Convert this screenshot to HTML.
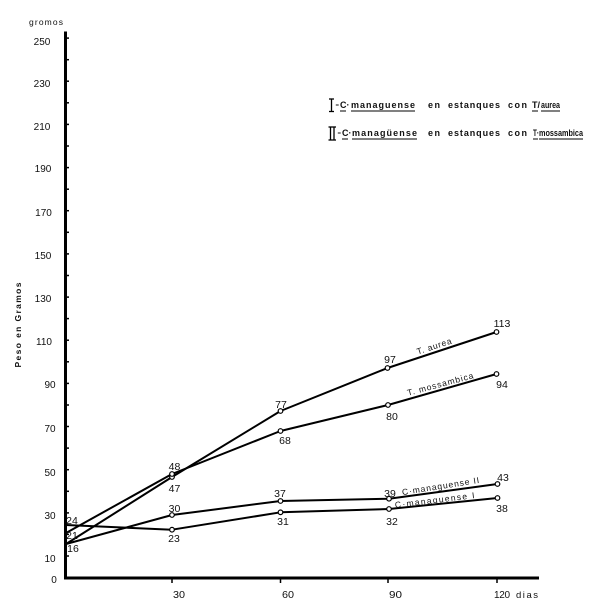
<!DOCTYPE html>
<html>
<head>
<meta charset="utf-8">
<style>
html,body{margin:0;padding:0;background:#fff;}
svg{display:block;}
text{font-family:"Liberation Sans",sans-serif;fill:#111;}
.t{font-size:10px;}
.v{font-size:10.5px;}
.lg{font-size:9px;font-weight:bold;}
.sm{font-size:8.5px;}
</style>
</head>
<body>
<svg width="600" height="614" viewBox="0 0 600 614" xmlns="http://www.w3.org/2000/svg">
<rect width="600" height="614" fill="#fff"/>

<!-- axes -->
<line x1="65.5" y1="31.5" x2="65.5" y2="579.5" stroke="#000" stroke-width="3"/>
<line x1="64" y1="578" x2="539" y2="578" stroke="#000" stroke-width="3"/>

<!-- y ticks -->
<g stroke="#000" stroke-width="1.5">
<line x1="66" y1="38.1" x2="69" y2="38.1"/>
<line x1="66" y1="59.7" x2="69" y2="59.7"/>
<line x1="66" y1="81.2" x2="69" y2="81.2"/>
<line x1="66" y1="102.8" x2="69" y2="102.8"/>
<line x1="66" y1="124.4" x2="69" y2="124.4"/>
<line x1="66" y1="146.0" x2="69" y2="146.0"/>
<line x1="66" y1="167.6" x2="69" y2="167.6"/>
<line x1="66" y1="189.2" x2="69" y2="189.2"/>
<line x1="66" y1="210.7" x2="69" y2="210.7"/>
<line x1="66" y1="232.3" x2="69" y2="232.3"/>
<line x1="66" y1="253.9" x2="69" y2="253.9"/>
<line x1="66" y1="275.5" x2="69" y2="275.5"/>
<line x1="66" y1="297.1" x2="69" y2="297.1"/>
<line x1="66" y1="318.6" x2="69" y2="318.6"/>
<line x1="66" y1="340.2" x2="69" y2="340.2"/>
<line x1="66" y1="361.8" x2="69" y2="361.8"/>
<line x1="66" y1="383.4" x2="69" y2="383.4"/>
<line x1="66" y1="405.0" x2="69" y2="405.0"/>
<line x1="66" y1="426.5" x2="69" y2="426.5"/>
<line x1="66" y1="448.1" x2="69" y2="448.1"/>
<line x1="66" y1="469.7" x2="69" y2="469.7"/>
<line x1="66" y1="491.3" x2="69" y2="491.3"/>
<line x1="66" y1="512.9" x2="69" y2="512.9"/>
<line x1="66" y1="534.4" x2="69" y2="534.4"/>
<line x1="66" y1="556.0" x2="69" y2="556.0"/>
</g>
<!-- x ticks -->
<g stroke="#000" stroke-width="1.5">
<line x1="172" y1="579" x2="172" y2="583"/>
<line x1="280.5" y1="579" x2="280.5" y2="583"/>
<line x1="388" y1="579" x2="388" y2="583"/>
<line x1="497" y1="579" x2="497" y2="583"/>
</g>

<!-- y tick labels -->
<g class="t" text-anchor="middle">
<text x="42" y="45">250</text>
<text x="42" y="87">230</text>
<text x="42" y="130">210</text>
<text x="43" y="172">190</text>
<text x="43.5" y="216">170</text>
<text x="43" y="259">150</text>
<text x="43" y="302">130</text>
<text x="44" y="345">110</text>
<text x="50" y="388">90</text>
<text x="50" y="432">70</text>
<text x="50" y="476">50</text>
<text x="50" y="519">30</text>
<text x="50" y="562">10</text>
<text x="54" y="583">0</text>
</g>
<text x="29" y="25" font-size="8.5" textLength="34" lengthAdjust="spacing">gromos</text>
<text transform="translate(21,325) rotate(-90)" text-anchor="middle" font-size="8.5" font-weight="bold" textLength="85" lengthAdjust="spacing">Peso  en  Gramos</text>

<!-- x tick labels -->
<g class="t">
<text x="173" y="598" textLength="12" lengthAdjust="spacingAndGlyphs">30</text>
<text x="282" y="598" textLength="12" lengthAdjust="spacingAndGlyphs">60</text>
<text x="389" y="598" textLength="13" lengthAdjust="spacingAndGlyphs">90</text>
<text x="494" y="598" textLength="16" lengthAdjust="spacing">120</text>
<text x="516" y="598" font-size="9.5" textLength="22" lengthAdjust="spacing">dias</text>
</g>

<!-- data lines -->
<g fill="none" stroke="#000" stroke-width="2" stroke-linejoin="round">
<polyline points="66,544 172,477 280.5,411 387.5,368 496.5,332"/>
<polyline points="66,533 172,474 280.5,431 388,405 496.5,374"/>
<polyline points="66,544 172,515 280.5,501 389,498.7 497.5,484"/>
<polyline points="66,525 172,529.7 280.5,512.3 389,509 497.5,498"/>
</g>

<!-- markers -->
<g fill="#fff" stroke="#000" stroke-width="1.2">
<circle cx="172" cy="477" r="2.3"/>
<circle cx="280.5" cy="411" r="2.3"/>
<circle cx="387.5" cy="368" r="2.3"/>
<circle cx="496.5" cy="332" r="2.3"/>
<circle cx="172" cy="474" r="2.3"/>
<circle cx="280.5" cy="431" r="2.3"/>
<circle cx="388" cy="405" r="2.3"/>
<circle cx="496.5" cy="374" r="2.3"/>
<circle cx="172" cy="515" r="2.3"/>
<circle cx="280.5" cy="501" r="2.3"/>
<circle cx="389" cy="498.7" r="2.3"/>
<circle cx="497.5" cy="484" r="2.3"/>
<circle cx="172" cy="529.7" r="2.3"/>
<circle cx="280.5" cy="512.3" r="2.3"/>
<circle cx="389" cy="509" r="2.3"/>
<circle cx="497.5" cy="498" r="2.3"/>
</g>

<!-- value labels -->
<g class="v" text-anchor="middle">
<text x="72" y="524">24</text>
<text x="72" y="539">21</text>
<text x="73" y="552">16</text>
<text x="174.5" y="470">48</text>
<text x="174.5" y="492">47</text>
<text x="174.5" y="512">30</text>
<text x="174" y="542">23</text>
<text x="281" y="408">77</text>
<text x="285" y="444">68</text>
<text x="280" y="497">37</text>
<text x="283" y="525">31</text>
<text x="390" y="363">97</text>
<text x="392" y="420">80</text>
<text x="390" y="497">39</text>
<text x="392" y="525">32</text>
<text x="502" y="327">113</text>
<text x="502" y="388">94</text>
<text x="503" y="481">43</text>
<text x="502" y="512">38</text>
</g>

<!-- series labels -->
<text class="sm" transform="translate(435,349) rotate(-18)" text-anchor="middle" textLength="36" lengthAdjust="spacing">T. aurea</text>
<text class="sm" transform="translate(441,387) rotate(-15)" text-anchor="middle" textLength="68" lengthAdjust="spacing">T. mossambica</text>
<text class="sm" transform="translate(441,489) rotate(-9)" text-anchor="middle" textLength="78" lengthAdjust="spacing">C·managuense  II</text>
<text class="sm" transform="translate(435,503) rotate(-7)" text-anchor="middle" textLength="80" lengthAdjust="spacing">C·managuense    I</text>

<!-- legend line 1 -->
<g stroke="#000" stroke-width="1.3">
<line x1="331.5" y1="99" x2="331.5" y2="111.5"/>
<line x1="329" y1="99" x2="334" y2="99"/>
<line x1="329" y1="111.5" x2="334" y2="111.5"/>
</g>
<text x="335.5" y="107" font-size="6">=</text>
<text class="lg" x="340" y="108">C</text>
<text class="lg" x="346.5" y="108">·</text>
<text class="lg" x="351" y="108" textLength="64" lengthAdjust="spacing">managuense</text>
<text class="lg" x="428" y="108" textLength="12" lengthAdjust="spacing">en</text>
<text class="lg" x="448" y="108" textLength="52" lengthAdjust="spacing">estanques</text>
<text class="lg" x="508" y="108" textLength="19" lengthAdjust="spacing">con</text>
<text class="lg" x="532" y="108" textLength="8" lengthAdjust="spacingAndGlyphs">T/</text>
<text class="lg" x="541" y="108" textLength="19" lengthAdjust="spacingAndGlyphs">aurea</text>
<g stroke="#000" stroke-width="1">
<line x1="340" y1="111" x2="346" y2="111"/>
<line x1="351" y1="111" x2="415" y2="111"/>
<line x1="532" y1="111" x2="538" y2="111"/>
<line x1="541" y1="111" x2="560" y2="111"/>
</g>

<!-- legend line 2 -->
<g stroke="#000" stroke-width="1.3">
<line x1="330.5" y1="127" x2="330.5" y2="140"/>
<line x1="334" y1="127" x2="334" y2="140"/>
<line x1="328.5" y1="127" x2="336" y2="127"/>
<line x1="328.5" y1="140" x2="336" y2="140"/>
</g>
<text x="337.5" y="135" font-size="6">=</text>
<text class="lg" x="342" y="136">C·</text>
<text class="lg" x="352" y="136" textLength="65" lengthAdjust="spacing">managüense</text>
<text class="lg" x="428" y="136" textLength="12" lengthAdjust="spacing">en</text>
<text class="lg" x="448" y="136" textLength="52" lengthAdjust="spacing">estanques</text>
<text class="lg" x="508" y="136" textLength="19" lengthAdjust="spacing">con</text>
<text class="lg" x="533" y="136" textLength="6" lengthAdjust="spacingAndGlyphs">T·</text>
<text class="lg" x="539" y="136" textLength="44" lengthAdjust="spacingAndGlyphs">mossambica</text>
<g stroke="#000" stroke-width="1">
<line x1="342" y1="139" x2="348" y2="139"/>
<line x1="352" y1="139" x2="417" y2="139"/>
<line x1="533" y1="139" x2="538" y2="139"/>
<line x1="539" y1="139" x2="583" y2="139"/>
</g>
</svg>
</body>
</html>
